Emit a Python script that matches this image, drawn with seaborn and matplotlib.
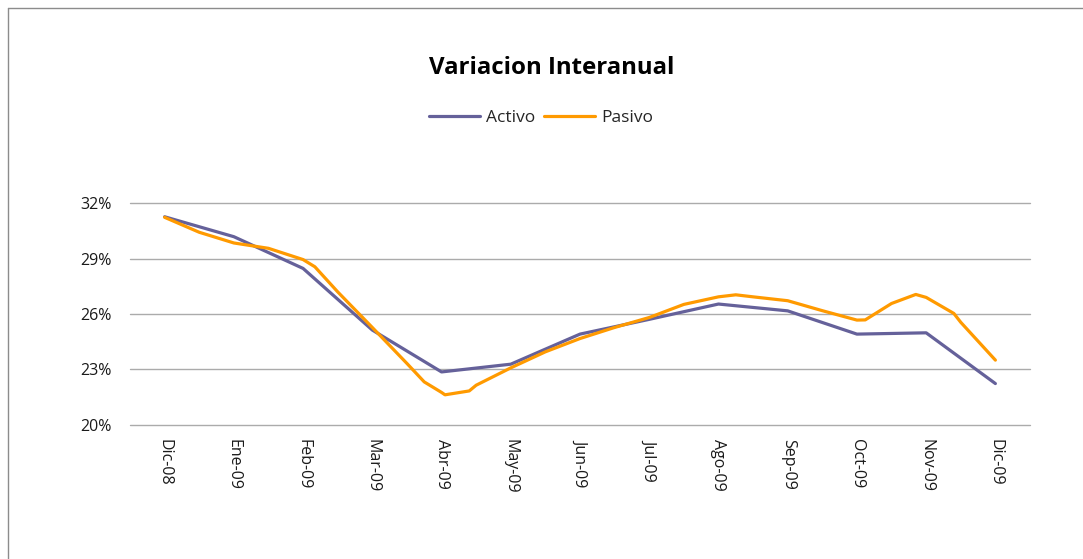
import matplotlib
matplotlib.use("Agg")
import matplotlib.pyplot as plt
import seaborn as sns
import pandas as pd
from matplotlib.lines import Line2D

# ---- data ----
months = ["Dic-08", "Ene-09", "Feb-09", "Mar-09", "Abr-09", "May-09", "Jun-09",
          "Jul-09", "Ago-09", "Sep-09", "Oct-09", "Nov-09", "Dic-09"]
activo = [31.27, 30.19, 28.47, 25.13, 22.86, 23.28, 24.91, 25.71, 26.54, 26.17,
          24.91, 24.98, 22.23]
# Pasivo at finer positions (month index)
pasivo_x = [0.0, 0.5, 1.0, 1.5, 2.0, 2.17, 2.5, 3.0, 3.5, 3.75, 4.0, 4.05, 4.4,
            4.5, 5.0, 5.5, 6.0, 6.5, 7.0, 7.5, 8.0, 8.25, 8.5, 9.0, 9.5, 10.0,
            10.12, 10.5, 10.85, 11.0, 11.4, 11.5, 12.0]
pasivo = [31.24, 30.43, 29.85, 29.56, 28.95, 28.56, 27.2, 25.27, 23.32, 22.32,
          21.75, 21.62, 21.83, 22.14, 23.08, 23.95, 24.67, 25.27, 25.81, 26.52,
          26.93, 27.04, 26.93, 26.72, 26.18, 25.67, 25.68, 26.57, 27.06, 26.9,
          26.03, 25.55, 23.5]
yticks = [20, 23, 26, 29, 32]
title = "Variacion Interanual"

sns.set_theme(style="white")
plt.rcParams["font.family"] = ["Open Sans", "DejaVu Sans"]

W, H = 1083, 559
fig = plt.figure(figsize=(W / 100, H / 100), dpi=100)
left, right = 130 / W, 1030 / W
top, bottom = 203.3 / H, 424.7 / H
ax = fig.add_axes([left, 1 - bottom, right - left, bottom - top])

c_act = "#65619A"
c_pas = "#FF9A00"

df_a = pd.DataFrame({"x": list(range(len(months))), "y": activo})
df_p = pd.DataFrame({"x": pasivo_x, "y": pasivo})
sns.lineplot(data=df_a, x="x", y="y", ax=ax, color=c_act, linewidth=2.3,
             zorder=3, solid_capstyle="round", solid_joinstyle="round")
sns.lineplot(data=df_p, x="x", y="y", ax=ax, color=c_pas, linewidth=2.3,
             zorder=4, solid_capstyle="round", solid_joinstyle="round")

ax.set_xlim(-0.5, len(months) - 0.5)
ax.set_ylim(20, 32)
ax.set_yticks(yticks)
ax.set_yticklabels([f"{v}%" for v in yticks], fontsize=11.5, color="#1a1a1a")
ax.set_xticks(range(len(months)))
ax.set_xticklabels(months, rotation=270, fontsize=11.5, color="#1a1a1a",
                   va="top", ha="center")
ax.tick_params(axis="y", length=0, pad=13)
ax.tick_params(axis="x", length=0, pad=10)
ax.set_xlabel("")
ax.set_ylabel("")
for s in ["left", "right", "top", "bottom"]:
    ax.spines[s].set_visible(False)
ax.grid(axis="y", color="#ABABAB", linewidth=1.0)
ax.grid(axis="x", visible=False)
ax.set_axisbelow(True)
for gl in ax.get_ygridlines():
    gl.set_clip_on(False)

fig.text(552 / W, 1 - 68 / H, title, ha="center", va="center",
         fontsize=17.3, fontweight="bold", color="#000000")

handles = [Line2D([0], [0], color=c_act, lw=2.3),
           Line2D([0], [0], color=c_pas, lw=2.3)]
fig.legend(handles, ["Activo", "Pasivo"], loc="center",
           bbox_to_anchor=(541 / W, 1 - 118 / H), ncol=2, frameon=False,
           fontsize=12.5, handlelength=2.9, handletextpad=0.35,
           columnspacing=0.55)

# chart-area border (left and top edges visible in reference)
fig.add_artist(Line2D([8 / W, 8 / W], [0, 1 - 8 / H], transform=fig.transFigure,
                      color="#8C8C8C", lw=1))
fig.add_artist(Line2D([8 / W, 1], [1 - 8 / H, 1 - 8 / H], transform=fig.transFigure,
                      color="#8C8C8C", lw=1))

fig.savefig("out.png", dpi=100)
